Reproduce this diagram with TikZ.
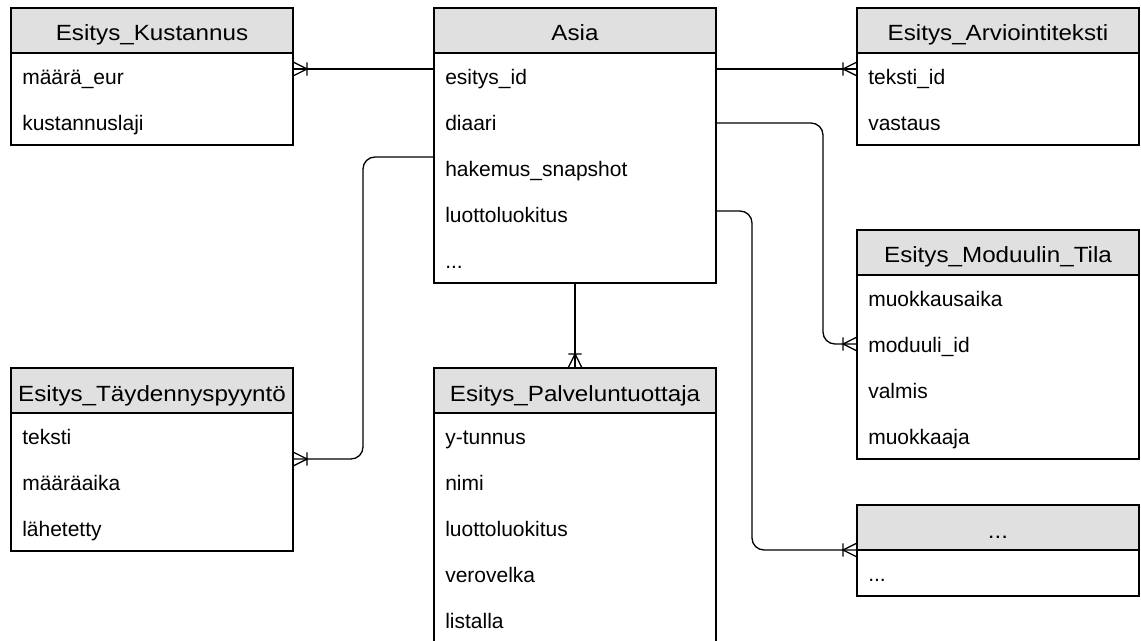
\documentclass[tikz,border=0pt]{standalone}
\usepackage{fontspec}
\setmainfont{Liberation Sans}
\newfontfamily\hdrfont[FakeStretch=1.1]{Liberation Sans}
\definecolor{hdrgray}{RGB}{224,224,224}

% crow's foot ("one or many") end marker
\pgfdeclarearrow{
  name = Crow,
  setup code = {
    \pgfarrowssettipend{0pt}
    \pgfarrowssetlineend{0pt}
    \pgfarrowssetbackend{-10.5pt}
    \pgfarrowsupperhullpoint{0pt}{5.25pt}
    \pgfarrowsupperhullpoint{-10.5pt}{5.25pt}
  },
  drawing code = {
    \pgfsetdash{}{0pt}
    \pgfpathmoveto{\pgfqpoint{0pt}{5.25pt}}
    \pgfpathlineto{\pgfqpoint{-10.5pt}{0pt}}
    \pgfpathlineto{\pgfqpoint{0pt}{-5.25pt}}
    \pgfpathmoveto{\pgfqpoint{-10.5pt}{5pt}}
    \pgfpathlineto{\pgfqpoint{-10.5pt}{-5pt}}
    \pgfusepathqstroke
  }
}

\tikzset{
  ent/.style={draw=black, line width=1pt, minimum width=282*0.75pt, inner sep=0pt, outer sep=0pt},
  hdr/.style={ent, fill=hdrgray, minimum height=45*0.75pt, anchor=north west,
              font=\hdrfont\fontsize{16.5}{20}\selectfont, text height=16.5pt, text depth=0.75pt},
  bodybox/.style={ent, fill=white, anchor=north},
  row/.style={anchor=base west, inner sep=0pt, font=\fontsize{15.75}{18}\selectfont},
  rel/.style={draw=black, line width=1pt, -Crow, rounded corners=9pt},
}

\newcommand\etcdots{...}

% #1 name, #2 left, #3 top, #4 title, #5 attributes, #6 number of attributes
\newcommand\erentity[6]{%
  \node[hdr] (#1) at (#2,#3) {#4};
  \node[bodybox, minimum height=#6*46*0.75pt] (#1b) at (#1.south) {};
  \foreach \rowtxt [count=\rowno] in {#5}
    \node[row] (#1-\rowno) at (#2+11, #3+45+46*\rowno-23+8.5) {\rowtxt};
}

\begin{document}
\begin{tikzpicture}[x=0.75pt, y=-0.75pt]
\useasboundingbox (0,0) rectangle (1141,641);
\clip (0,0) rectangle (1141,641);

\erentity{kus}{11}{8}{Esitys\_Kustannus}{määrä\_eur, kustannuslaji}{2}
\erentity{asia}{434}{8}{Asia}{esitys\_id, diaari, hakemus\_snapshot, luottoluokitus, \etcdots}{5}
\erentity{arv}{857}{8}{Esitys\_Arviointiteksti}{teksti\_id, vastaus}{2}
\erentity{mod}{857}{230}{Esitys\_Moduulin\_Tila}{muokkausaika, moduuli\_id, valmis, muokkaaja}{4}
\erentity{tay}{11}{368}{Esitys\_Täydennyspyyntö}{teksti, määräaika, lähetetty}{3}
\erentity{pal}{434}{368}{Esitys\_Palveluntuottaja}{y-tunnus, nimi, luottoluokitus, verovelka, listalla}{5}
\erentity{etc}{857}{505}{\etcdots}{\etcdots}{1}

% relationships
\draw[rel] (asiab.west |- 0,69) -- (kusb.east |- 0,69);
\draw[rel] (asiab.east |- 0,69) -- (arvb.west |- 0,69);
\draw[rel] (asiab.east |- 0,123) -- (823,123) -- (823,344) -- (modb.west |- 0,344);
\draw[rel] (asiab.east |- 0,211) -- (752,211) -- (752,550) -- (etc.south west);
\draw[rel] (asiab.west |- 0,157) -- (363,157) -- (363,459) -- (tayb.east |- 0,459);
\draw[rel] (asiab.south) -- (pal.north);
\end{tikzpicture}
\end{document}
